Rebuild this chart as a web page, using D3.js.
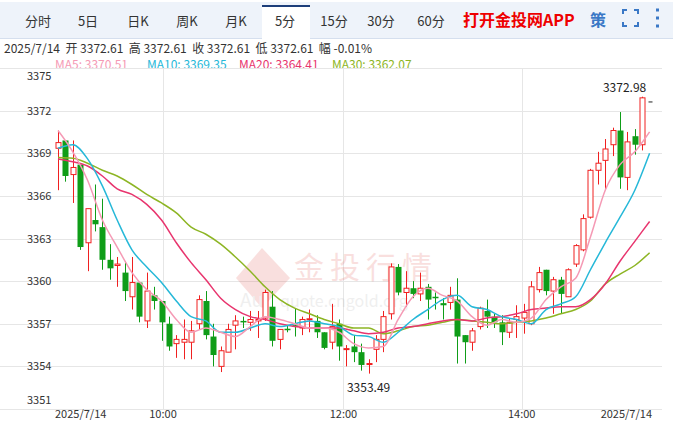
<!DOCTYPE html>
<html><head><meta charset="utf-8">
<script src="https://cdn.jsdelivr.net/npm/d3@7"></script>
<style>
body{margin:0;background:#fff;font-family:"Noto Sans CJK SC","Liberation Sans",Arial,sans-serif;}
</style></head>
<body>
<svg id="chart" width="673" height="422"></svg>
<script>
// candles: [open, high, low, close]
const candles = [
 [3369.35,3370.6,3366.4,3369.75],[3369.9,3369.9,3367.0,3367.4],[3367.5,3369.9,3365.5,3368.0],
 [3368.2,3368.2,3362.2,3362.4],[3362.7,3365.1,3360.7,3365.1],[3364.3,3366.8,3363.5,3364.0],
 [3363.8,3365.8,3360.8,3361.5],[3361.5,3362.6,3360.1,3360.9],[3361.1,3361.7,3359.6,3361.2],
 [3360.6,3361.4,3358.6,3359.3],[3358.9,3361.7,3358.0,3359.9],[3359.9,3359.9,3357.1,3357.5],
 [3357.2,3360.6,3356.7,3359.3],[3359.0,3359.6,3358.0,3358.6],[3358.6,3358.6,3355.8,3357.1],
 [3357.0,3357.5,3355.1,3355.4],[3355.6,3356.2,3354.6,3355.9],[3355.7,3357.3,3354.5,3355.9],
 [3355.7,3357.2,3354.5,3356.5],[3357.0,3359.0,3356.6,3358.7],[3358.6,3359.3,3355.9,3356.2],
 [3356.1,3357.0,3354.0,3354.8],[3354.0,3355.4,3353.6,3355.1],[3355.0,3357.0,3355.0,3356.6],
 [3356.9,3357.6,3355.2,3357.2],[3357.2,3357.5,3356.7,3357.1],[3357.1,3357.9,3356.5,3357.3],
 [3357.2,3357.9,3356.0,3357.3],[3357.4,3359.4,3357.2,3359.2],[3358.2,3359.3,3355.4,3355.8],
 [3355.9,3356.6,3355.2,3356.6],[3356.65,3356.9,3356.4,3356.55],[3356.9,3358.1,3356.1,3356.8],
 [3356.7,3357.5,3356.2,3357.3],[3357.3,3358.0,3356.4,3357.35],[3357.2,3357.6,3356.0,3356.4],
 [3356.4,3356.4,3355.2,3355.3],[3355.7,3358.4,3355.2,3356.8],[3357.0,3357.3,3354.4,3355.4],
 [3355.2,3355.5,3354.0,3355.25],[3355.4,3356.2,3354.3,3355.0],[3355.0,3355.6,3353.7,3354.1],
 [3354.2,3354.5,3353.49,3354.2],[3355.2,3356.2,3354.3,3355.9],[3355.9,3357.9,3355.0,3357.5],
 [3357.7,3361.25,3357.3,3361.0],[3361.0,3361.2,3359.0,3359.2],[3359.2,3360.7,3358.2,3359.5],
 [3359.5,3360.0,3358.8,3359.1],[3359.1,3360.6,3358.6,3359.5],[3359.6,3359.8,3357.3,3358.7],
 [3358.9,3359.2,3358.0,3358.85],[3358.45,3358.8,3357.3,3358.3],[3358.5,3359.6,3358.0,3359.0],
 [3358.7,3360.2,3354.2,3356.1],[3356.2,3356.2,3354.2,3355.7],[3355.7,3356.7,3355.1,3356.5],
 [3356.8,3358.2,3356.6,3358.1],[3357.9,3358.7,3356.7,3357.5],[3357.5,3357.7,3356.7,3357.1],
 [3357.1,3357.6,3355.5,3356.4],[3356.4,3357.4,3356.0,3357.1],[3357.3,3358.3,3356.0,3357.5],
 [3357.4,3358.4,3356.3,3357.8],[3357.0,3360.0,3356.9,3359.6],[3359.4,3361.0,3359.2,3360.6],
 [3360.8,3360.8,3359.0,3359.3],[3359.3,3360.3,3357.7,3360.1],[3360.1,3360.3,3357.7,3359.1],
 [3358.9,3360.9,3358.9,3360.8],[3361.2,3362.6,3361.0,3362.5],[3362.2,3364.7,3362.1,3364.4],
 [3364.5,3367.9,3364.4,3367.8],[3367.8,3369.1,3366.8,3368.3],[3368.5,3370.0,3366.4,3369.3],
 [3369.6,3370.8,3368.8,3370.6],[3370.6,3371.9,3366.5,3367.3],[3367.3,3370.5,3366.4,3369.8],
 [3370.2,3370.7,3368.9,3369.6],[3369.6,3372.98,3369.2,3372.9],[3372.61,3372.61,3372.61,3372.61]
];
// moving averages read every 2 candles
const maIdx = d3.range(0, 81, 2);
const ma5 = [3370.6,3369.1,3367.1,3364.3,3362.4,3360.6,3359.4,3358.6,3357.3,3356.4,3356.7,3356.4,3356.1,3356.8,3357.5,3357.3,3357.0,3356.7,3356.7,3356.4,3355.6,3355.3,3355.4,3357.3,3358.9,3359.5,3359.0,3358.6,3357.5,3356.9,3357.3,3357.1,3357.4,3358.7,3359.6,3360.2,3363.1,3366.4,3368.2,3369.1,3370.5];
const ma10 = [3369.35,3369.6,3368.6,3366.7,3364.3,3362.2,3361.0,3359.9,3358.6,3357.5,3357.2,3356.4,3356.4,3356.7,3357.0,3356.8,3357.0,3357.2,3357.0,3356.8,3356.2,3356.1,3355.7,3356.4,3357.3,3358.0,3358.7,3359.0,3358.2,3358.0,3357.5,3357.3,3357.0,3358.0,3358.4,3358.9,3360.8,3362.7,3364.5,3366.4,3369.0];
const ma20 = [3368.6,3368.4,3368.1,3367.4,3366.5,3366.1,3365.4,3364.3,3362.7,3361.3,3360.1,3358.8,3358.0,3357.5,3357.3,3357.0,3356.8,3356.7,3356.7,3356.7,3356.5,3356.3,3356.4,3356.7,3356.8,3357.0,3357.2,3357.3,3357.2,3357.4,3357.5,3357.7,3358.0,3358.1,3358.2,3358.2,3358.7,3359.8,3361.4,3362.8,3364.2];
const ma30 = [3368.7,3368.65,3368.3,3367.8,3367.4,3366.8,3366.1,3365.5,3364.8,3363.8,3363.3,3362.6,3361.7,3360.7,3359.6,3358.7,3358.1,3357.7,3357.3,3357.0,3356.7,3356.7,3356.3,3356.5,3356.8,3356.9,3357.1,3357.3,3357.2,3357.1,3357.0,3357.1,3357.2,3357.4,3357.7,3358.0,3358.6,3359.8,3360.5,3361.1,3362.0];
const yTicks = [3351,3354,3357,3360,3363,3366,3369,3372,3375];
const xTickIdx = [14.2, 38.6, 62.7];
const xTickLabels = ["10:00","12:00","14:00"];
const tabs = ["分时","5日","日K","周K","月K","5分","15分","30分","60分"];
const tabCx = [38,88,138,187,236,285,334,381,431];

const svg = d3.select("#chart");
const W = 673;

// tab bar
svg.append("rect").attr("x",0).attr("y",2).attr("width",W).attr("height",36).attr("fill","#eef3fa");
svg.append("line").attr("x1",0).attr("x2",W).attr("y1",38.5).attr("y2",38.5).attr("stroke","#d5dfee");
svg.append("rect").attr("x",262).attr("y",6).attr("width",48).attr("height",33).attr("fill","#fff");
svg.append("rect").attr("x",262).attr("y",5).attr("width",48).attr("height",2).attr("fill","#1d3e7a");
tabs.forEach((t,i)=>{
  svg.append("text").attr("x",tabCx[i]).attr("y",26)
    .attr("text-anchor","middle").attr("font-size",13).attr("fill","#333").text(t);
});
svg.append("text").attr("x",463).attr("y",26).attr("font-size",16).attr("font-weight","bold")
  .attr("fill","#ee0000").text("打开金投网APP");
svg.append("text").attr("x",590).attr("y",26).attr("font-size",16).attr("font-weight","bold")
  .attr("fill","#3a78c6").text("策");
// fullscreen + menu icons
const ic = svg.append("g").attr("stroke","#3a78c6").attr("stroke-width",2).attr("fill","none");
ic.append("path").attr("d","M623,14 v-4 h4 M634,10 h4 v4 M638,22 v4 h-4 M627,26 h-4 v-4");
[10,18,26].forEach(y=>svg.append("rect").attr("x",656).attr("y",y-1.5).attr("width",3).attr("height",3).attr("fill","#3a78c6"));

// info lines
svg.append("text").attr("x",4).attr("y",53).attr("font-size",12).attr("fill","#333")
  .attr("xml:space","preserve").text("2025/7/14  开 3372.61  高 3372.61  收 3372.61  低 3372.61  幅 -0.01%");
const maLegend = [["MA5: 3370.51","#f59ab5",55],["MA10: 3369.35","#26b8d8",147],["MA20: 3364.41","#e8356e",239],["MA30: 3362.07","#8db524",332]];
maLegend.forEach(m=>svg.append("text").attr("x",m[2]).attr("y",69).attr("font-size",12).attr("fill",m[1]).text(m[0]));

// scales
const x = d3.scaleLinear().domain([0,81]).range([58,657]);
const y = d3.scaleLinear().domain([3351,3375]).range([409,68]);
const right = 662;

// grid
svg.append("g").selectAll("line").data(yTicks).join("line")
  .attr("x1",0).attr("x2",right).attr("y1",d=>Math.round(y(d))+0.5).attr("y2",d=>Math.round(y(d))+0.5)
  .attr("stroke","#e6e6e6");
svg.append("g").selectAll("line").data(xTickIdx).join("line")
  .attr("x1",d=>Math.round(x(d))+0.5).attr("x2",d=>Math.round(x(d))+0.5).attr("y1",68).attr("y2",409)
  .attr("stroke","#e6e6e6");
svg.append("line").attr("x1",0).attr("x2",right).attr("y1",409.5).attr("y2",409.5).attr("stroke","#e6e6e6");

// y labels
svg.append("g").selectAll("text").data(yTicks).join("text")
  .attr("x",27).attr("y",d=>{const v=y(d); return Math.min(Math.max(v,76),400)+4;})
  .attr("font-size",11).attr("fill","#333").text(d=>d);
// x labels
svg.append("g").selectAll("text").data(xTickIdx).join("text")
  .attr("x",d=>x(d)).attr("y",418).attr("text-anchor","middle").attr("font-size",11).attr("fill","#333")
  .text((d,i)=>xTickLabels[i]);
svg.append("text").attr("x",55).attr("y",418).attr("font-size",11).attr("fill","#333").text("2025/7/14");
svg.append("text").attr("x",652).attr("y",418).attr("text-anchor","end").attr("font-size",11).attr("fill","#333").text("2025/7/14");

// watermark
const wm = svg.append("g").attr("opacity",0.15);
wm.append("path").attr("d","M262,248 L236,278 L262,308 L290,278 Z").attr("fill","#d9322b");
wm.append("text").attr("x",294).attr("y",278).attr("font-size",30).attr("fill","#d9322b")
  .attr("letter-spacing",6).text("金投行情");
wm.append("text").attr("x",240).attr("y",307).attr("font-size",19).attr("fill","#999").text("Au");
wm.append("text").attr("x",280).attr("y",307).attr("font-size",16).attr("fill","#999").text("quote.cngold.org");

// candles
const bw = 5;
const g = svg.append("g");
candles.forEach((c,i)=>{
  const [o,h,l,cl] = c;
  const up = cl >= o;
  const col = up ? "#f02020" : "#0f9d18";
  const cx = Math.round(x(i))+0.5;
  const top = y(Math.max(o,cl)), bot = y(Math.min(o,cl));
  if(i===candles.length-1){
    g.append("line").attr("x1",cx-2).attr("x2",cx+2).attr("y1",top).attr("y2",top).attr("stroke","#222");
    return;
  }
  g.append("line").attr("x1",cx).attr("x2",cx).attr("y1",y(h)).attr("y2",y(l)).attr("stroke",col);
  if(up){
    g.append("rect").attr("x",cx-bw/2).attr("y",top).attr("width",bw).attr("height",Math.max(bot-top,1))
      .attr("fill","#fff").attr("stroke",col);
  } else {
    g.append("rect").attr("x",cx-bw/2-0.5).attr("y",top).attr("width",bw+1).attr("height",Math.max(bot-top,1.5))
      .attr("fill",col);
  }
});

// MA lines
const line = d3.line().x((d,i)=>x(maIdx[i])).y(d=>y(d)).curve(d3.curveMonotoneX);
[[ma30,"#8db524"],[ma20,"#e8356e"],[ma10,"#26b8d8"],[ma5,"#f59ab5"]].forEach(m=>{
  svg.append("path").datum(m[0]).attr("d",line).attr("fill","none").attr("stroke",m[1]).attr("stroke-width",1.5);
});

// high / low markers
svg.append("text").attr("x",x(79)+4).attr("y",y(3372.98)-5).attr("text-anchor","end").attr("font-size",12).attr("fill","#222").text("3372.98");
svg.append("text").attr("x",x(42)).attr("y",y(3353.49)+18).attr("text-anchor","middle").attr("font-size",12).attr("fill","#222").text("3353.49");
</script>
</body></html>
